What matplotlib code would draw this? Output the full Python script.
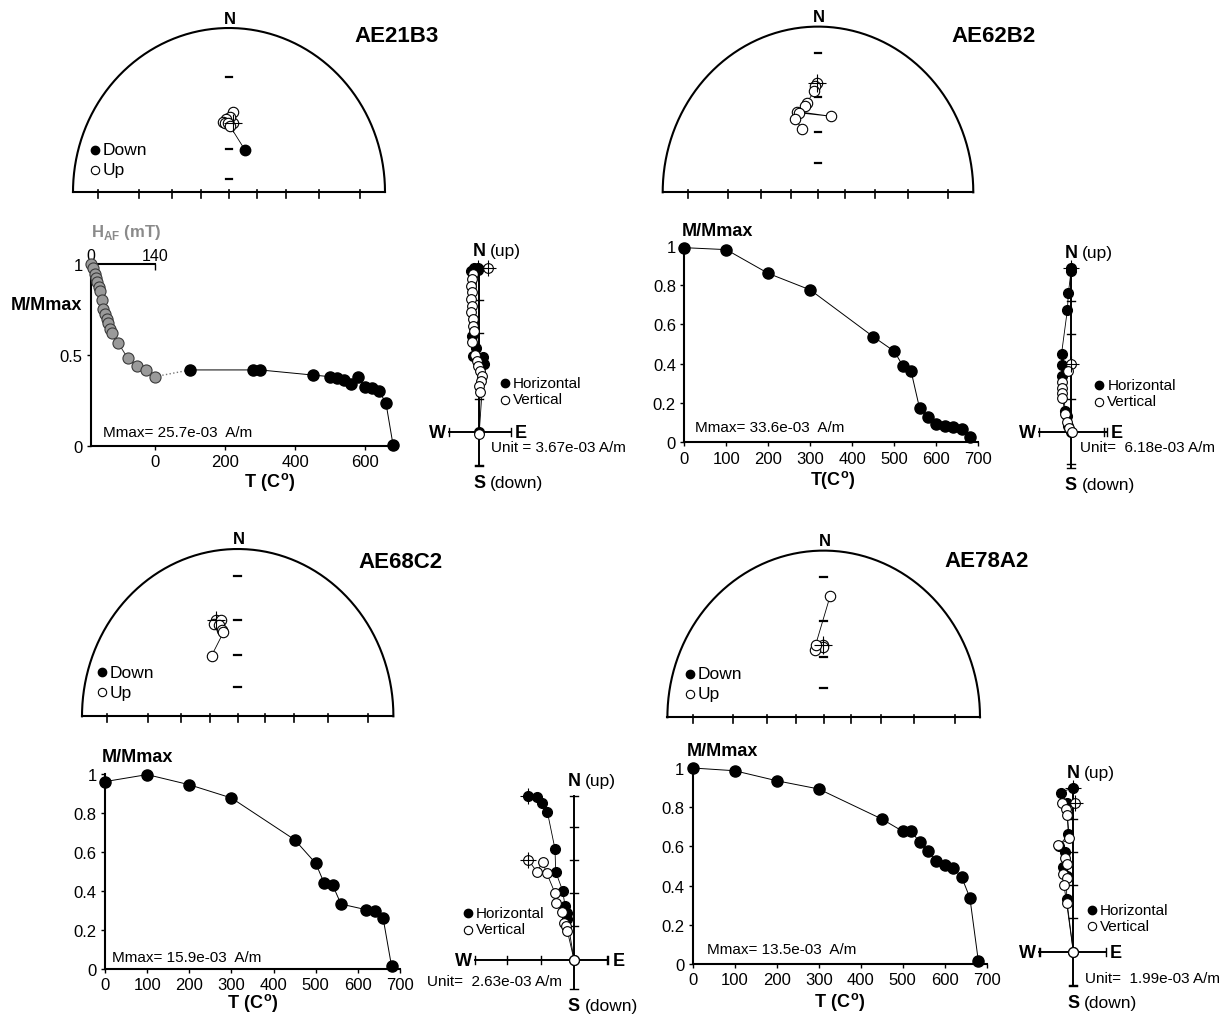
import numpy as np
import matplotlib.pyplot as plt

plt.rcParams['font.family'] = ['Liberation Sans', 'DejaVu Sans']
plt.rcParams['mathtext.fontset'] = 'custom'
plt.rcParams['mathtext.rm'] = 'Liberation Sans'
plt.rcParams['mathtext.bf'] = 'Liberation Sans:bold'

W, H = 1227, 1020

# ---------------- demagnetisation curves ----------------
# AE21B3: AF steps (mT) followed by thermal steps
af_H_21 = [0, 5, 9, 12, 14, 18, 20, 23, 27, 31, 34, 38, 42, 47, 60, 80, 100, 120, 140]
af_M_21 = [1.0, 0.976, 0.945, 0.923, 0.899, 0.875, 0.85, 0.802, 0.752, 0.725, 0.697,
           0.673, 0.642, 0.618, 0.563, 0.483, 0.437, 0.417, 0.38]
th_T_21 = [100, 280, 300, 450, 500, 520, 540, 560, 580, 600, 620, 640, 660, 680]
th_M_21 = [0.417, 0.417, 0.417, 0.389, 0.38, 0.372, 0.361, 0.339, 0.376, 0.325, 0.317,
           0.303, 0.233, 0.006]

th_T_62 = [0, 100, 200, 300, 450, 500, 520, 540, 560, 580, 600, 620, 640, 660, 680]
th_M_62 = [0.99, 0.98, 0.859, 0.775, 0.537, 0.463, 0.39, 0.361, 0.175, 0.131, 0.093,
           0.083, 0.08, 0.068, 0.025]

th_T_68 = [0, 100, 200, 300, 450, 500, 520, 540, 560, 620, 640, 660, 680]
th_M_68 = [0.961, 0.997, 0.945, 0.877, 0.663, 0.542, 0.441, 0.431, 0.333, 0.304, 0.299,
           0.26, 0.014]

th_T_78 = [0, 100, 200, 300, 450, 500, 520, 540, 560, 580, 600, 620, 640, 660, 680]
th_M_78 = [1.0, 0.986, 0.935, 0.893, 0.74, 0.677, 0.68, 0.621, 0.575, 0.524, 0.507,
           0.488, 0.446, 0.337, 0.017]

mmax_labels = ['Mmax= 25.7e-03  A/m', 'Mmax= 33.6e-03  A/m',
               'Mmax= 15.9e-03  A/m', 'Mmax= 13.5e-03  A/m']
unit_labels = ['Unit = 3.67e-03 A/m', 'Unit=  6.18e-03 A/m',
               'Unit=  2.63e-03 A/m', 'Unit=  1.99e-03 A/m']
sample_names = ['AE21B3', 'AE62B2', 'AE68C2', 'AE78A2']

# ---------------- stereonet directions (dec, inc; inc<0 = up) ----------------
dec_21 = [3.8, 3.3, 0.7, 357.3, 355.2, 356.4, 359.5, 0.9, 21.9]
inc_21 = [-44.4, -37.9, -40.7, -41.8, -43.6, -44.4, -44.6, -46.2, 59.2]
dec_62 = [359.7, 358.3, 357.8, 352.3, 350.8, 344.7, 10.1, 345.9, 341.5, 345.2]
inc_62 = [-23.2, -24.8, -26.9, -33.1, -34.5, -36.4, -40.0, -37.4, -40.0, -46.9]
dec_68 = [346.4, 344.6, 349.5, 347.8, 348.7, 349.6, 335.3]
inc_68 = [-28.7, -30.4, -29.3, -31.4, -34.5, -36.0, -46.4]
dec_78 = [359.7, 359.2, 352.2, 353.3, 3.2]
inc_78 = [-42.9, -44.4, -45.6, -42.6, -18.0]

net_inc_ticks = [70, 50, 30, 10]
net_vtick_21 = [0.077, 0.26, 0.47, 0.70]

# ---------------- Zijderveld components (in plot units) ----------------
hx_21 = [-0.05, -0.25, -0.15, -0.05, -0.23, -0.10, -0.18, 0.12, 0.14, 0.0]
hy_21 = [4.95, 4.88, 4.95, 4.9, 2.9, 2.55, 2.3, 2.25, 2.05, 0.0]
vx_21 = [0.27, -0.18, -0.23, -0.26, -0.23, -0.26, -0.23, -0.26, -0.2, -0.18, -0.16,
         -0.23, -0.13, -0.08, -0.03, 0.02, 0.07, 0.04, 0.0, 0.02, 0.0]
vy_21 = [4.95, 4.78, 4.63, 4.42, 4.22, 4.02, 3.8, 3.62, 3.41, 3.21, 3.06, 2.73, 2.32,
         2.15, 2.0, 1.85, 1.7, 1.55, 1.39, 1.19, -0.08]

hx_62 = [0, 0, -0.08, -0.11, -0.29, -0.26, -0.26, -0.18, -0.13, -0.08, 0]
hy_62 = [5.0, 4.9, 4.24, 3.73, 2.38, 2.04, 1.71, 0.64, 0.49, 0.18, 0]
vx_62 = [0, -0.08, -0.29, -0.26, -0.26, -0.26, -0.18, -0.11, -0.05, 0.02]
vy_62 = [2.07, 1.87, 1.53, 1.33, 1.18, 1.02, 0.54, 0.29, 0.1, 0.0]

hx_68 = [-1.37, -1.12, -0.95, -0.8, -0.57, -0.55, -0.34, -0.27, -0.22, -0.2, 0]
hy_68 = [4.92, 4.9, 4.72, 4.44, 3.32, 2.64, 2.07, 1.62, 1.4, 1.22, 0]
vx_68 = [-1.37, -1.12, -0.94, -0.82, -0.57, -0.54, -0.37, -0.29, -0.24, -0.2, 0]
vy_68 = [3.0, 2.64, 2.92, 2.6, 2.0, 1.7, 1.42, 1.1, 1.0, 0.87, 0]

hx_78 = [0, -0.38, -0.2, -0.15, -0.42, -0.25, -0.32, -0.2, -0.2, 0]
hy_78 = [4.93, 4.78, 4.48, 3.53, 3.18, 2.98, 2.53, 2.28, 1.58, 0]
vx_78 = [0.05, -0.35, -0.22, -0.18, -0.12, -0.45, -0.25, -0.18, -0.3, -0.18, -0.28, -0.2, 0]
vy_78 = [4.48, 4.48, 4.28, 4.1, 3.4, 3.2, 2.8, 2.63, 2.33, 2.2, 2.0, 1.46, 0]

# ---------------- figure ----------------
fig = plt.figure(figsize=(W / 100, H / 100), dpi=100)
ov = fig.add_axes([0, 0, 1, 1])
ov.set_xlim(0, W)
ov.set_ylim(H, 0)
ov.axis('off')


def px_axes(x0, y0, x1, y1):
    a = fig.add_axes([x0 / W, 1 - y1 / H, (x1 - x0) / W, (y1 - y0) / H])
    a.patch.set_alpha(0)
    return a


def stereonet(cx, cy, rx, ry, dec, inc, vticks, name, title_xy, legend=None):
    ax = px_axes(cx - rx, cy - ry, cx + rx, cy)
    ax.set_xlim(-1, 1)
    ax.set_ylim(0, 1)
    ax.axis('off')
    t = np.linspace(0, np.pi, 300)
    ax.plot(np.cos(t), np.sin(t), color='k', lw=1.5, clip_on=False)
    ax.plot([-1, 1], [0, 0], color='k', lw=1.5, clip_on=False)
    rt = np.tan(np.radians(90 - np.array(net_inc_ticks)) / 2)
    for r in np.concatenate([-rt, [0], rt]):
        ax.plot([r, r], [-0.035, 0.015], color='k', lw=1.2, clip_on=False)
    for r in vticks:
        ax.plot([-0.022, 0.022], [r, r], color='k', lw=1.6)
    d = np.radians(dec)
    inc = np.array(inc)
    rr = np.tan(np.radians(90 - np.abs(inc)) / 2)
    x, y = rr * np.sin(d), rr * np.cos(d)
    ax.plot(x, y, color='k', lw=0.6)
    up = inc < 0
    ax.plot(x[~up], y[~up], 'o', ms=7.5, mfc='k', mec='k')
    ax.plot(x[up], y[up], 'o', ms=7.5, mfc='white', mec='k', mew=0.8)
    ax.plot(x[0], y[0], '+', ms=13, mew=0.8, color='k')
    ov.text(cx + 1, cy - ry - 10, 'N', ha='center', va='center', fontsize=12, fontweight='bold')
    ov.text(title_xy[0], title_xy[1], name, ha='center', va='center', fontsize=16, fontweight='bold')
    if legend:
        lx, ly = legend
        ov.plot(lx, ly, 'o', ms=6, mfc='k', mec='k')
        ov.plot(lx, ly + 20, 'o', ms=6, mfc='white', mec='k', mew=0.8)
        ov.text(lx + 8, ly, 'Down', va='center', fontsize=12.5)
        ov.text(lx + 8, ly + 20, 'Up', va='center', fontsize=12.5)


def decay(box, T, M, xlim, xticks, yticks, ylabels, xbound):
    ax = px_axes(*box)
    ax.plot(T, M, color='k', lw=0.7, zorder=2)
    ax.plot(T, M, 'o', ms=8, mfc='k', mec='k', clip_on=False, zorder=3)
    ax.set_xlim(xlim)
    ax.set_ylim(0, 1)
    for s in ('top', 'right'):
        ax.spines[s].set_visible(False)
    for s in ('left', 'bottom'):
        ax.spines[s].set_linewidth(1.5)
    ax.spines['bottom'].set_bounds(*xbound)
    ax.set_xticks(xticks)
    ax.set_yticks(yticks)
    ax.set_yticklabels(ylabels)
    ax.tick_params(length=3, width=1, labelsize=12, pad=3)
    return ax


def zijder(ox, oy, u, ext, hx, hy, vx, vy, legend, unit_text, unit_xy, unit_ha):
    top, bot, left, right = ext
    ax = px_axes(ox + (left - 0.5) * u, oy - (top + 0.5) * u,
                 ox + (right + 0.5) * u, oy - (bot - 0.5) * u)
    ax.set_xlim(left - 0.5, right + 0.5)
    ax.set_ylim(bot - 0.5, top + 0.5)
    ax.axis('off')
    ax.plot([0, 0], [bot, top], color='k', lw=1.4)
    ax.plot([left, right], [0, 0], color='k', lw=1.4)
    tk = 0.12
    for v in list(range(int(np.ceil(bot)), int(np.floor(top)) + 1)) + [bot, top]:
        if v != 0:
            ax.plot([-tk, tk], [v, v], color='k', lw=1.0)
    for v in list(range(int(np.ceil(left)), int(np.floor(right)) + 1)) + [left, right]:
        if v != 0:
            ax.plot([v, v], [-tk, tk], color='k', lw=1.0)
    ax.plot(hx, hy, color='k', lw=0.6)
    ax.plot(hx, hy, 'o', ms=7, mfc='k', mec='k', clip_on=False)
    ax.plot(vx, vy, color='k', lw=0.6)
    ax.plot(vx, vy, 'o', ms=7, mfc='white', mec='k', mew=0.8, clip_on=False)
    ax.plot(hx[0], hy[0], '+', ms=12, mew=0.8, color='k')
    ax.plot(vx[0], vy[0], '+', ms=12, mew=0.8, color='k')
    ny = oy - top * u - 15
    sy = oy - bot * u + 16
    ov.text(ox, ny, 'N', ha='center', va='center', fontsize=13, fontweight='bold')
    ov.text(ox + 11, ny, '(up)', ha='left', va='center', fontsize=12.5)
    ov.text(ox, sy, 'S', ha='center', va='center', fontsize=13, fontweight='bold')
    ov.text(ox + 11, sy, '(down)', ha='left', va='center', fontsize=12.5)
    ov.text(ox + left * u - 3, oy + 1, 'W', ha='right', va='center', fontsize=13, fontweight='bold')
    ov.text(ox + right * u + 4, oy + 1, 'E', ha='left', va='center', fontsize=13, fontweight='bold')
    lx, ly = legend
    ov.plot(lx, ly, 'o', ms=6, mfc='k', mec='k')
    ov.plot(lx, ly + 16.5, 'o', ms=6, mfc='white', mec='k', mew=0.8)
    ov.text(lx + 8, ly, 'Horizontal', va='center', fontsize=11)
    ov.text(lx + 8, ly + 16.5, 'Vertical', va='center', fontsize=11)
    ov.text(unit_xy[0], unit_xy[1], unit_text, ha=unit_ha, va='center', fontsize=11)


ylab6 = ['0', '0.2', '0.4', '0.6', '0.8', '1']
yt6 = [0, 0.2, 0.4, 0.6, 0.8, 1.0]
xt8 = [0, 100, 200, 300, 400, 500, 600, 700]
tlabel = r'$\mathbf{T\ (C^{o})}$'

# ---- AE21B3 (top left) ----
stereonet(229, 193, 156, 164, dec_21, inc_21, net_vtick_21, sample_names[0], (397, 37),
          legend=(95, 150.7))
ax = decay((91, 265, 396.5, 446.7), th_T_21, th_M_21, (-183, 690), [0, 200, 400, 600],
           [0, 0.5, 1.0], ['0', '0.5', '1'], (-183, 680))
ax.plot([0, th_T_21[0]], [af_M_21[-1], th_M_21[0]], ':', color='#777777', lw=1.0, zorder=1)
tw = ax.twiny()
tw.set_xlim(0, 140 * (690 + 183) / 183)
for s in ('left', 'right', 'bottom'):
    tw.spines[s].set_visible(False)
tw.spines['top'].set_linewidth(1.5)
tw.spines['top'].set_bounds(0, 140)
tw.set_xticks([0, 140])
tw.tick_params(axis='x', direction='in', length=4, width=1, labelsize=11.5, pad=1)
tw.plot(af_H_21, af_M_21, color='#333333', lw=0.7, zorder=2)
tw.plot(af_H_21, af_M_21, 'o', ms=8, mfc='#9a9a9a', mec='#3a3a3a', mew=0.8, clip_on=False, zorder=3)
ov.text(91, 233, r'H$_{\mathbf{AF}}$ (mT)', color='#8a8a8a', fontweight='bold', fontsize=12,
        va='center', ha='left')
ov.text(82, 306, 'M/Mmax', ha='right', va='center', fontsize=13, fontweight='bold')
ov.text(103.3, 433.3, mmax_labels[0], va='center', fontsize=11)
ov.text(270, 481.7, tlabel, ha='center', va='center', fontsize=13)
zijder(479.3, 432.7, 33, (5.03, -1.05, -0.91, 0.95), hx_21, hy_21, vx_21, vy_21,
       (505, 384), unit_labels[0], (490.7, 448.3), 'left')

# ---- AE62B2 (top right) ----
stereonet(818, 193.3, 155.3, 165.7, dec_62, inc_62,
          np.tan(np.radians(90 - np.array(net_inc_ticks)) / 2), sample_names[1], (994, 37))
decay((684.3, 246.7, 978.3, 443.3), th_T_62, th_M_62, (0, 700), xt8, yt6, ylab6, (0, 700))
ov.text(681.7, 231.7, 'M/Mmax', ha='left', va='center', fontsize=13, fontweight='bold')
ov.text(695, 428.3, mmax_labels[1], va='center', fontsize=11)
ov.text(833, 480, r'$\mathbf{T(C^{o})}$', ha='center', va='center', fontsize=13)
zijder(1071, 432.7, 32.7, (5.03, -1.12, -0.97, 1.09), hx_62, hy_62, vx_62, vy_62,
       (1099.3, 386), unit_labels[1], (1080, 448.3), 'left')

# ---- AE68C2 (bottom left) ----
stereonet(237.7, 717.3, 155.7, 167.3, dec_68, inc_68,
          np.tan(np.radians(90 - np.array(net_inc_ticks)) / 2), sample_names[2], (400.7, 563),
          legend=(101.7, 673.3))
decay((105, 775, 400, 970), th_T_68, th_M_68, (0, 700), xt8, yt6, ylab6, (0, 700))
ov.text(101.7, 758, 'M/Mmax', ha='left', va='center', fontsize=13, fontweight='bold')
ov.text(111.7, 958.3, mmax_labels[2], va='center', fontsize=11)
ov.text(252.7, 1003, tlabel, ha='center', va='center', fontsize=13)
zijder(574, 960.7, 33.3, (4.92, -0.88, -2.97, 1.03), hx_68, hy_68, vx_68, vy_68,
       (467.7, 914), unit_labels[2], (561.7, 981.7), 'right')

# ---- AE78A2 (bottom right) ----
stereonet(823.7, 718.3, 156.3, 166.7, dec_78, inc_78,
          np.tan(np.radians(90 - np.array(net_inc_ticks)) / 2), sample_names[3], (987, 562),
          legend=(690, 675))
decay((692.7, 769, 986.7, 965), th_T_78, th_M_78, (0, 700), xt8, yt6, ylab6, (0, 700))
ov.text(686.7, 751.7, 'M/Mmax', ha='left', va='center', fontsize=13, fontweight='bold')
ov.text(706.7, 950, mmax_labels[3], va='center', fontsize=11)
ov.text(840, 1001.7, tlabel, ha='center', va='center', fontsize=13)
zijder(1073.3, 952.7, 33.3, (4.93, -1.04, -1.02, 0.98), hx_78, hy_78, vx_78, vy_78,
       (1091.7, 910.7), unit_labels[3], (1085, 979.3), 'left')

fig.savefig('out.png', dpi=100)
